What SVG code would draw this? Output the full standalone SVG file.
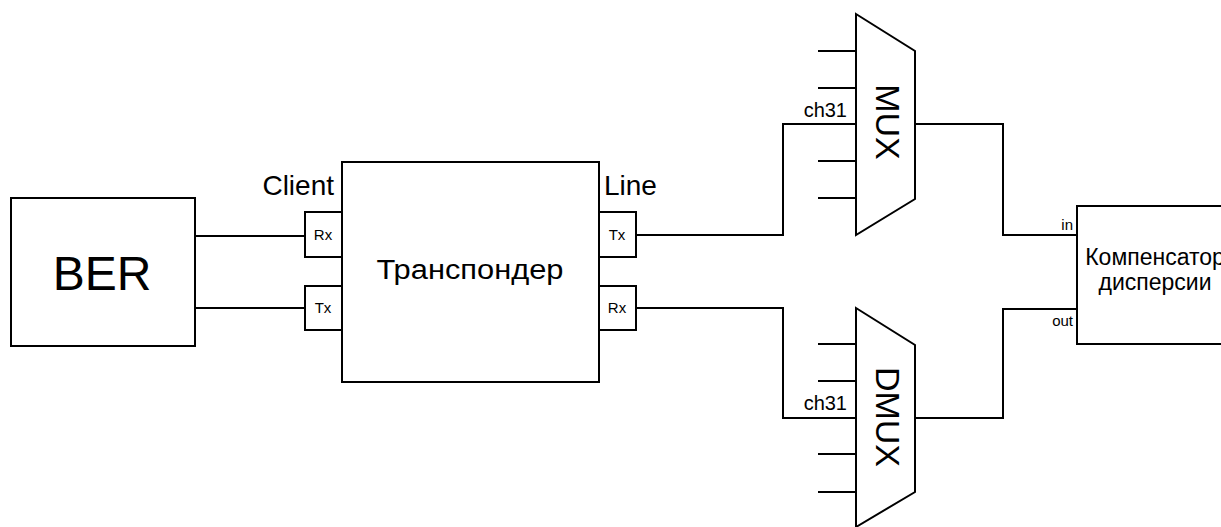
<svg xmlns="http://www.w3.org/2000/svg" width="1221" height="527" viewBox="0 0 1221 527">
<style>
.b{fill:#fff;stroke:#000;stroke-width:2}
.w{fill:none;stroke:#000;stroke-width:2}
text{font-family:"Liberation Sans",Arial,sans-serif;fill:#000}
.p{font-size:15px;text-anchor:middle}
.s{font-size:15px;text-anchor:end}
.c{font-size:20px;text-anchor:end}
</style>
<rect width="1221" height="527" fill="#fff"/>
<g id="connectors">
<path class="w" d="M195 236H305"/>
<path class="w" d="M195 308H305"/>
<path class="w" d="M636 235H783V124H856"/>
<path class="w" d="M636 308H783V418H856"/>
<path class="w" d="M915 124H1003V235H1077"/>
<path class="w" d="M915 418H1003V309H1077"/>
</g>
<g id="ber">
<rect class="b" x="11" y="198" width="184" height="148"/>
<text x="102" y="290" font-size="48" text-anchor="middle">BER</text>
</g>
<g id="transponder">
<rect class="b" x="342" y="162" width="257" height="220"/>
<text x="470" y="279" font-size="27" text-anchor="middle" textLength="187" lengthAdjust="spacingAndGlyphs">Транспондер</text>
<text x="334" y="195" font-size="28" text-anchor="end">Client</text>
<text x="604" y="195" font-size="28">Line</text>
</g>
<g id="client-rx">
<rect class="b" x="305" y="212" width="37" height="45"/>
<text class="p" x="323" y="240">Rx</text>
</g>
<g id="client-tx">
<rect class="b" x="305" y="286" width="37" height="44"/>
<text class="p" x="323" y="313">Tx</text>
</g>
<g id="line-tx">
<rect class="b" x="599" y="212" width="37" height="45"/>
<text class="p" x="617" y="240">Tx</text>
</g>
<g id="line-rx">
<rect class="b" x="599" y="286" width="37" height="44"/>
<text class="p" x="617" y="313">Rx</text>
</g>
<g id="mux">
<path class="w" d="M818 51H856M818 88H856M818 161H856M818 198H856"/>
<path class="b" d="M856 14L915 51V199L856 235Z"/>
<text class="c" x="847" y="117">ch31</text>
<text x="876" y="122" font-size="34" text-anchor="middle" transform="rotate(90 876 122)">MUX</text>
</g>
<g id="dmux">
<path class="w" d="M818 344H856M818 381H856M818 454H856M818 492H856"/>
<path class="b" d="M856 308L915 345V492L856 527Z"/>
<text class="c" x="847" y="410">ch31</text>
<text x="876" y="417" font-size="34" text-anchor="middle" transform="rotate(90 876 417)">DMUX</text>
</g>
<g id="compensator">
<rect class="b" x="1077" y="206" width="160" height="138"/>
<text x="1155" y="265" font-size="23" text-anchor="middle">Компенсатор</text>
<text x="1155" y="290" font-size="23" text-anchor="middle">дисперсии</text>
<text class="s" x="1073" y="230">in</text>
<text class="s" x="1073" y="326">out</text>
</g>
</svg>
